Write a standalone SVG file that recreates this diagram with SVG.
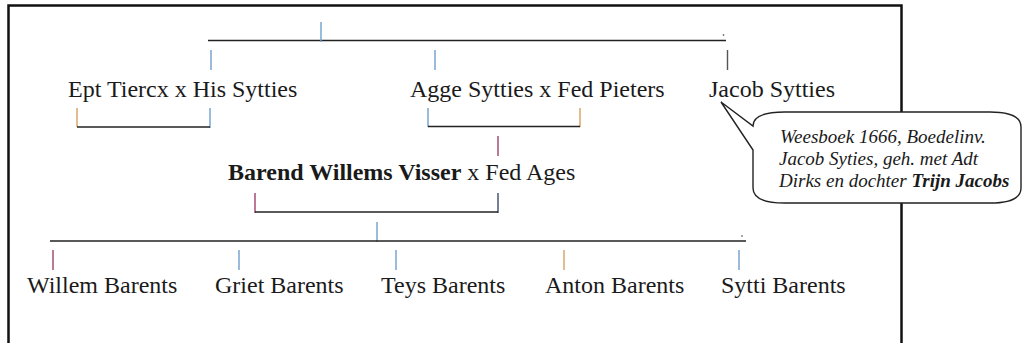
<svg xmlns="http://www.w3.org/2000/svg" width="1022" height="343" viewBox="0 0 1022 343">
<style>
.t{font-family:"Liberation Serif","Times New Roman",serif;font-size:24px;fill:#1a1a1a}
.c{font-family:"Liberation Serif","Times New Roman",serif;font-size:19px;font-style:italic;fill:#1a1a1a}
.ln{stroke:#222;stroke-width:1.4;fill:none}
.bl{stroke:#6f9fcf;stroke-width:1.4}
.or{stroke:#d7a060;stroke-width:1.4}
.mg{stroke:#a0406a;stroke-width:1.4}
.nv{stroke:#3a4a6a;stroke-width:1.4}
.gy{stroke:#555;stroke-width:1.4}
</style>
<rect x="8.5" y="5.5" width="893" height="360" fill="#fff" stroke="#111" stroke-width="2.5"/>
<g id="connectors">
<line class="ln" x1="208" y1="40.5" x2="726" y2="40.5"/>
<circle cx="723.5" cy="35" r="0.8" fill="#333"/>
<line class="bl" x1="321" y1="22" x2="321" y2="42"/>
<line class="bl" x1="211" y1="50" x2="211" y2="70"/>
<line class="bl" x1="435" y1="50" x2="435" y2="70"/>
<line class="gy" x1="727.5" y1="50" x2="727.5" y2="70"/>
<line class="or" x1="77" y1="108" x2="77" y2="127"/>
<line class="bl" x1="210" y1="108" x2="210" y2="128"/>
<line class="ln" x1="77" y1="127" x2="210" y2="127"/>
<line class="bl" x1="428" y1="108" x2="428" y2="127"/>
<line class="or" x1="580" y1="108" x2="580" y2="127"/>
<line class="ln" x1="428" y1="126.5" x2="580" y2="126.5"/>
<line class="mg" x1="498" y1="136" x2="498" y2="156"/>
<line class="mg" x1="255" y1="193" x2="255" y2="213"/>
<line class="nv" x1="498" y1="193" x2="498" y2="213"/>
<line class="ln" x1="255" y1="212" x2="498" y2="212"/>
<line class="bl" x1="377" y1="222" x2="377" y2="242"/>
<line class="ln" x1="50" y1="241" x2="746" y2="241"/>
<circle cx="742" cy="236" r="0.8" fill="#333"/>
<line class="mg" x1="53" y1="250" x2="53" y2="270"/>
<line class="bl" x1="239" y1="250" x2="239" y2="270"/>
<line class="bl" x1="396" y1="250" x2="396" y2="270"/>
<line class="or" x1="564" y1="250" x2="564" y2="270"/>
<line class="bl" x1="739" y1="250" x2="739" y2="270"/>
</g>
<g id="ept"><text class="t" x="68" y="96.5">Ept Tiercx x His Sytties</text></g>
<g id="agge"><text class="t" x="410" y="96.5">Agge Sytties x Fed Pieters</text></g>
<g id="jacob"><text class="t" x="709" y="96.5">Jacob Sytties</text></g>
<g id="barend"><text class="t" x="228" y="180"><tspan font-weight="bold">Barend Willems Visser</tspan> x Fed Ages</text></g>
<g id="willem"><text class="t" x="27" y="293">Willem Barents</text></g>
<g id="griet"><text class="t" x="215" y="293">Griet Barents</text></g>
<g id="teys"><text class="t" x="381" y="293">Teys Barents</text></g>
<g id="anton"><text class="t" x="545" y="293">Anton Barents</text></g>
<g id="sytti"><text class="t" x="721" y="293">Sytti Barents</text></g>
<g id="callout">
<path d="M753,150 L721,102 L753,126 Q753,112 785,112 L990,112 Q1021,112 1021,127 L1021,188 Q1021,203 990,203 L785,203 Q753,203 753,188 Z" fill="#fff" stroke="#222" stroke-width="1.4"/>
<text class="c" x="780" y="143">Weesboek 1666, Boedelinv.</text>
<text class="c" x="779" y="165">Jacob Syties, geh. met Adt</text>
<text class="c" x="779" y="187">Dirks en dochter <tspan font-weight="bold">Trijn Jacobs</tspan></text>
</g>
</svg>
